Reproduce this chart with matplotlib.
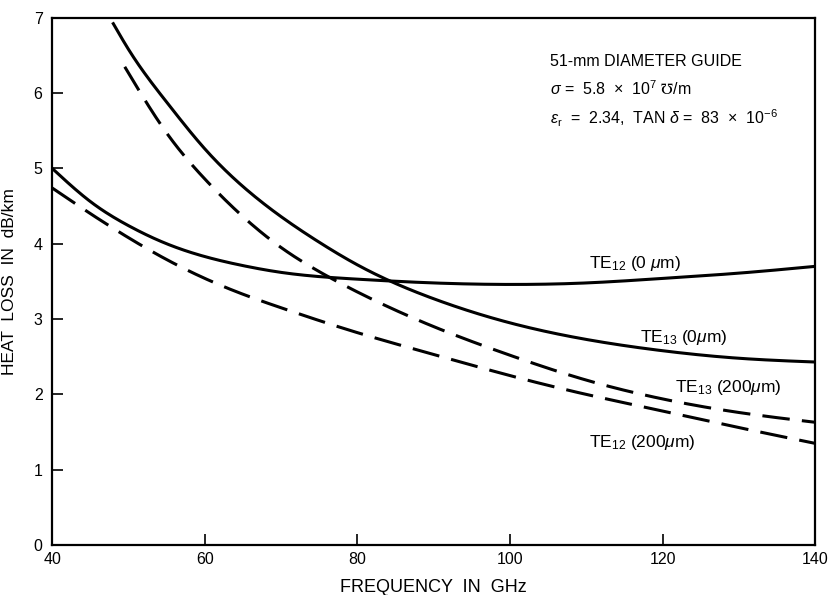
import matplotlib
matplotlib.use("Agg")
import matplotlib.pyplot as plt
import numpy as np

plt.rcParams['font.family'] = ['Liberation Sans', 'DejaVu Sans']
plt.rcParams['mathtext.fontset'] = 'custom'
plt.rcParams['mathtext.rm'] = 'Liberation Sans'
plt.rcParams['mathtext.it'] = 'Liberation Sans:italic'

# values (frequency GHz, heat loss dB/km)
f_te12_0 = [40, 45, 50, 55, 60, 65, 70, 80, 90, 100, 110, 120, 130, 140]
te12_0 = [5.0, 4.56, 4.24, 4.0, 3.83, 3.71, 3.62, 3.53, 3.48, 3.46, 3.48, 3.54, 3.61, 3.7]

f_te12_200 = [40, 45, 50, 55, 60, 65, 70, 80, 90, 100, 110, 120, 130, 140]
te12_200 = [4.74, 4.4, 4.08, 3.79, 3.54, 3.33, 3.15, 2.82, 2.53, 2.25, 2.0, 1.78, 1.56, 1.35]

f_te13_0 = [47.9, 50, 55, 60, 65, 70, 75, 80, 90, 100, 110, 120, 130, 140]
te13_0 = [6.94, 6.58, 5.88, 5.26, 4.76, 4.36, 4.02, 3.72, 3.27, 2.95, 2.73, 2.58, 2.48, 2.43]

f_te13_200 = [49.5, 55, 60, 65, 70, 75, 80, 90, 100, 110, 120, 130, 140]
te13_200 = [6.35, 5.47, 4.86, 4.36, 3.95, 3.63, 3.36, 2.9, 2.52, 2.19, 1.94, 1.76, 1.63]

x_ticks = [40, 60, 80, 100, 120, 140]
y_ticks = [0, 1, 2, 3, 4, 5, 6, 7]


def spline(x, y, n=400):
    # natural cubic spline through the read points
    x = np.asarray(x, float)
    y = np.asarray(y, float)
    m = len(x)
    h = np.diff(x)
    A = np.zeros((m, m))
    b = np.zeros(m)
    A[0, 0] = A[-1, -1] = 1
    for i in range(1, m - 1):
        A[i, i - 1] = h[i - 1]
        A[i, i] = 2 * (h[i - 1] + h[i])
        A[i, i + 1] = h[i]
        b[i] = 6 * ((y[i + 1] - y[i]) / h[i] - (y[i] - y[i - 1]) / h[i - 1])
    M = np.linalg.solve(A, b)
    xs = np.linspace(x[0], x[-1], n)
    k = np.clip(np.searchsorted(x, xs) - 1, 0, m - 2)
    t0 = x[k + 1] - xs
    t1 = xs - x[k]
    hk = h[k]
    ys = (M[k] * t0 ** 3 + M[k + 1] * t1 ** 3) / (6 * hk) \
        + (y[k] / hk - M[k] * hk / 6) * t0 + (y[k + 1] / hk - M[k + 1] * hk / 6) * t1
    return xs, ys


fig = plt.figure(figsize=(8.3, 5.95), dpi=100)
ax = fig.add_axes([0.063, 0.084, 0.919, 0.886])

dash = (0, (9, 4))
for fx, fy, ls in [(f_te12_0, te12_0, '-'), (f_te13_0, te13_0, '-'),
                   (f_te12_200, te12_200, dash), (f_te13_200, te13_200, dash)]:
    xs, ys = spline(fx, fy)
    ax.plot(xs, ys, color='black', lw=2.2, linestyle=ls, solid_capstyle='butt')

ax.set_xlim(40, 140)
ax.set_ylim(0, 7)
ax.set_xticks(x_ticks)
ax.set_yticks(y_ticks)
ax.tick_params(direction='in', length=8, width=1.2, labelsize=11.5, pad=5)
ax.tick_params(axis='y', pad=7)
for s in ax.spines.values():
    s.set_linewidth(1.6)
ax.set_xlabel('FREQUENCY  IN  GHz', fontsize=13, labelpad=9)
ax.set_ylabel('HEAT  LOSS  IN  dB/km', fontsize=12.5, labelpad=12)

lab = dict(fontsize=12.5, va='baseline')
ax.text(110.4, 3.68, r'TE$_{12}$ (0 $\mu$m)', **lab)
ax.text(117.0, 2.70, r'TE$_{13}$ (0$\mu$m)', **lab)
ax.text(121.6, 2.03, r'TE$_{13}$ (200$\mu$m)', **lab)
ax.text(110.4, 1.30, r'TE$_{12}$ (200$\mu$m)', **lab)

ann = dict(fontsize=11.5, va='baseline')
ax.text(105.2, 6.36, '51-mm DIAMETER GUIDE', **ann)
ax.text(105.2, 5.98, r'$\sigma$ =  5.8  ×  10$^{7}$ $\mho$/m', **ann)
ax.text(105.2, 5.59, r'$\epsilon_{\rm r}$  =  2.34,  TAN $\delta$ =  83  ×  10$^{-6}$', **ann)

fig.savefig('out.png', dpi=100)
